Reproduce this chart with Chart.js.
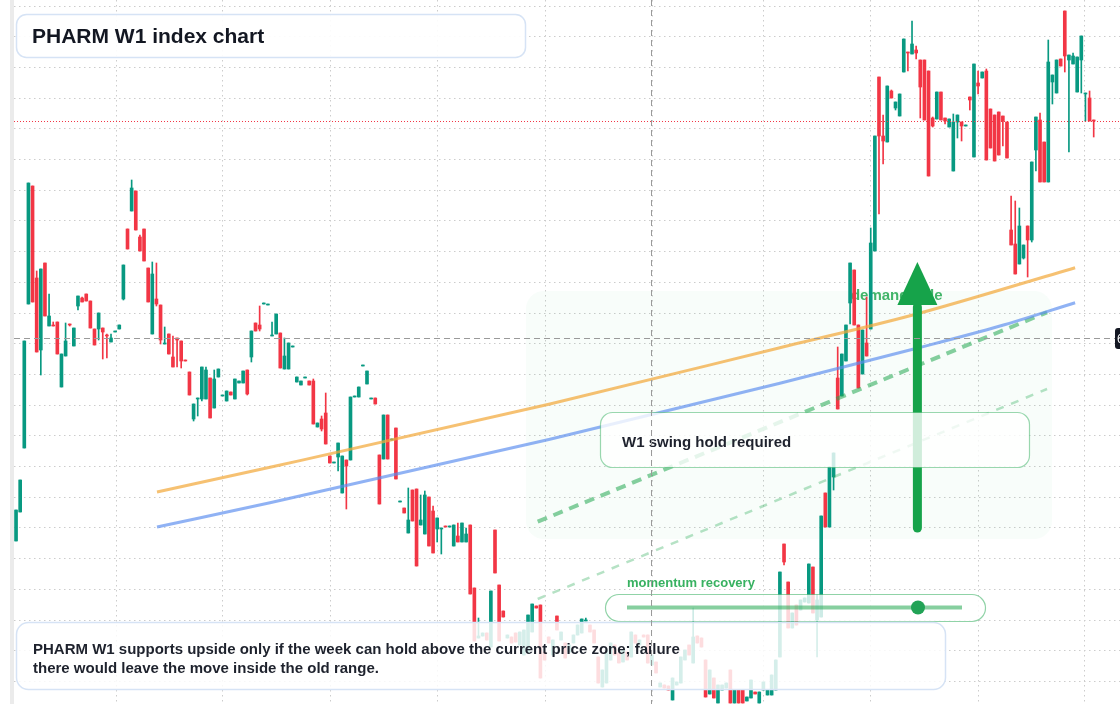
<!DOCTYPE html>
<html><head><meta charset="utf-8">
<script src="https://cdn.jsdelivr.net/npm/chart.js@4.4.1/dist/chart.umd.min.js"></script>
<style>html,body{margin:0;padding:0;background:#fff;overflow:hidden}canvas{display:block}</style>
</head><body>
<canvas id="c" width="1120" height="704"></canvas>
<script>
// ---- weekly OHLC (index units on x, price units on y) ----
const opens = [163,192,256,400,518,426,354,441,378,379,382,317,348,380,358,398,406,410,403,375,375,376,369,362,372,375,405,475,493,513,467,475,436,370,405,399,360,370,347,366,363,344,332,285,305,305,305,326,296,327,308,303,312,305,321,321,334,347,381,379,400,399,368,370,371,335,335,357,322,319,326,323,323,277,285,291,248,241,247,211,244,244,307,307,338,320,305,306,249,245,289,264,276,202,196,171,214,215,179,170,207,193,175,175,178,177,158,168,162,162,179,116,66,68,71,57,174,119,93,66,67,71,59,49,51,72,98,99,52,67,49,88,64,61,52,61,69,71,83,79,74,47,17,21,44,59,51,42,52,47,69,59,69,69,39,42,17,19,18,4,19,21,44,59,41,68,66,44,10,26,1,14,16,34,1,14,14,3,6,12,1,14,9,9,14,47,160,122,76,99,94,102,101,137,84,87,211,177,227,326,308,343,401,434,379,330,361,375,453,627,568,562,613,596,588,632,652,650,654,644,644,633,586,585,612,586,577,533,582,582,578,607,547,621,626,633,595,589,592,588,582,474,460,440,446,478,464,554,584,562,522,622,611,645,693,644,640,612,644,610,606,584];
const highs = [194,224,363,521,518,433,435,441,410,382,382,350,381,380,376,408,407,410,403,375,391,376,370,370,373,379,439,475,524,513,469,475,436,442,441,399,377,370,368,366,363,344,332,300,306,337,337,326,334,335,309,313,312,325,323,333,334,373,381,398,401,400,382,390,371,366,361,358,327,323,327,323,325,281,288,311,248,242,261,248,244,307,308,317,339,333,306,306,249,289,289,265,276,203,196,216,214,215,209,213,207,198,186,176,178,178,179,181,181,176,179,116,86,71,71,113,174,119,93,69,67,71,72,74,89,100,98,99,52,67,64,88,72,61,59,69,79,85,86,79,74,47,34,54,61,59,51,54,52,72,69,64,69,69,49,42,21,19,18,26,22,47,54,59,96,68,66,44,34,26,19,19,21,34,14,14,14,7,24,12,12,22,14,29,44,132,160,122,91,99,104,106,140,137,109,188,211,237,251,357,350,379,441,434,379,374,407,476,568,627,589,618,614,602,610,665,652,683,658,644,644,633,587,612,612,586,585,590,589,582,579,607,640,633,632,635,595,589,592,588,582,508,503,496,459,478,542,587,591,562,664,629,644,645,693,649,651,647,668,611,613,584];
const lows = [163,192,256,400,402,352,329,388,378,378,350,317,348,378,358,394,402,403,376,359,364,345,346,362,372,375,404,455,493,474,453,443,402,370,398,360,360,350,337,337,336,343,309,283,288,303,305,286,296,327,308,303,309,305,321,321,309,342,373,373,400,399,368,370,336,335,335,357,322,319,326,319,280,277,273,260,241,241,233,211,195,244,307,307,338,320,305,300,200,245,245,264,225,202,191,171,183,138,179,170,158,151,162,150,177,177,158,162,162,162,110,63,66,68,64,57,131,63,87,66,61,62,59,49,51,72,96,26,44,61,49,74,64,46,52,61,69,71,83,72,61,21,17,21,44,49,41,42,44,47,61,59,67,41,39,31,17,16,14,4,19,21,44,49,41,61,57,7,10,6,1,14,16,1,1,1,1,3,6,10,1,14,9,9,14,47,139,76,76,79,94,102,101,91,47,87,177,177,214,295,308,343,380,379,316,330,348,375,453,490,540,562,606,594,588,632,633,650,645,586,584,528,577,585,584,580,577,533,566,563,578,594,547,610,626,544,556,543,549,558,546,459,430,440,445,427,462,533,522,522,522,600,611,638,632,552,640,612,611,583,583,567];
const closes = [194,224,363,521,402,352,435,388,388,378,350,350,363,379,376,408,402,403,376,359,391,372,368,366,373,379,439,455,516,474,453,443,402,430,400,364,361,350,337,364,343,343,309,300,306,337,334,286,325,335,309,313,309,325,323,333,310,373,373,375,401,400,369,390,336,348,361,358,327,323,327,319,280,281,275,260,241,242,261,248,238,307,308,317,339,333,306,300,200,289,245,265,225,203,191,184,183,138,184,209,158,151,186,176,177,178,179,162,181,170,110,63,68,71,64,113,131,63,87,69,61,62,72,74,89,100,96,26,44,61,64,74,72,46,59,69,79,85,84,72,61,21,34,54,61,49,41,54,44,72,61,64,67,41,49,31,21,16,14,26,22,47,54,49,67,61,57,7,34,6,19,19,21,1,14,1,1,7,24,10,12,22,14,29,44,132,142,76,91,79,104,106,140,91,104,188,177,237,251,295,350,379,441,379,316,374,348,461,568,568,563,618,606,602,610,665,651,660,651,617,584,528,578,612,584,583,585,582,589,578,579,604,640,618,632,544,556,543,549,583,546,459,430,478,459,464,542,587,522,522,642,629,644,638,648,649,648,647,668,611,583,583];

// ---- overlays (x in week index, y in price units) ----
const orangeX = [34.14, 61.5, 129.3, 185, 217.2, 256.5];
const orangeY = [212, 236.7, 300, 356.3, 389, 436.3];
const blueX = [34.14, 61.5, 129.3, 185, 217.2, 238.3, 256.5];
const blueY = [177, 201.3, 264.7, 320.7, 354.7, 378, 401.3];
const upperGuideX = [126.34, 249.7];
const upperGuideY = [182.3, 391.7];
const lowerGuideX = [126.34, 249.7];
const lowerGuideY = [105, 315];
const zoneX = [123.5, 250.9];
const zoneY = [165, 413];
const arrowX = 218.3;
const arrowY = [174, 399, 442]; // tail, head base, tip
const crossX = 154;
const crossY = 366;

// ---- tick positions (grid) ----
const xTicks = [24.13, 49.95, 76.11, 102.03, 128.04, 154.0, 180.86, 206.82, 232.9, 258.72];
const yTicks = [698.5, 667.8, 637.1, 606.4, 575.7, 545.0, 514.3, 483.6, 452.9, 422.2, 391.5, 360.8, 330.1, 299.4, 268.7, 238.0, 207.3, 176.6, 145.9, 115.2, 84.5, 53.8, 23.1];

// ---- texts ----
const titleText = 'PHARM W1 index chart';
const noteLines = ['PHARM W1 supports upside only if the week can hold above the current price zone; failure', 'there would leave the move inside the old range.'];
const holdText = 'W1 swing hold required';
const zoneText = 'demand side';
const momentumText = 'momentum recovery';

const GREEN = '#089981', RED = '#f23645';
const FONT = '"Liberation Sans", Arial, sans-serif';
const colors = closes.map((c, i) => c >= opens[i] ? GREEN : RED);
const bodies = opens.map((o, i) => ({x: i, y: [o, closes[i]]}));
const wicks = opens.map((o, i) => ({x: i, y: [lows[i], highs[i]]}));
const pts = (xs, ys) => xs.map((x, i) => ({x, y: ys[i]}));

function rrect(ctx, x, y, w, h, r) {
  ctx.beginPath();
  ctx.moveTo(x + r, y);
  ctx.lineTo(x + w - r, y);
  ctx.arcTo(x + w, y, x + w, y + r, r);
  ctx.lineTo(x + w, y + h - r);
  ctx.arcTo(x + w, y + h, x + w - r, y + h, r);
  ctx.lineTo(x + r, y + h);
  ctx.arcTo(x, y + h, x, y + h - r, r);
  ctx.lineTo(x, y + r);
  ctx.arcTo(x, y, x + r, y, r);
  ctx.closePath();
}

const under = {
  id: 'under',
  beforeDatasetsDraw(chart) {
    const ctx = chart.ctx, xs = chart.scales.x, ys = chart.scales.y;
    ctx.save();
    // grid
    ctx.strokeStyle = '#cccccc';
    ctx.lineWidth = 1;
    ctx.setLineDash([1.5, 3.5]);
    yTicks.forEach(v => {
      const y = Math.round(ys.getPixelForValue(v)) + 0.5;
      ctx.beginPath(); ctx.moveTo(14, y); ctx.lineTo(1120, y); ctx.stroke();
    });
    xTicks.forEach(v => {
      const x = Math.round(xs.getPixelForValue(v)) + 0.5;
      ctx.beginPath(); ctx.moveTo(x, 0); ctx.lineTo(x, 704); ctx.stroke();
    });
    ctx.setLineDash([]);
    ctx.fillStyle = '#ebebeb';
    ctx.fillRect(10, 0, 4, 704);
    // demand zone
    const zx0 = xs.getPixelForValue(zoneX[0]), zx1 = xs.getPixelForValue(zoneX[1]);
    const zy0 = ys.getPixelForValue(zoneY[1]), zy1 = ys.getPixelForValue(zoneY[0]);
    rrect(ctx, zx0, zy0, zx1 - zx0, zy1 - zy0, 18);
    ctx.fillStyle = 'rgba(34,197,94,0.03)';
    ctx.fill();
    ctx.font = 'bold 15px ' + FONT;
    ctx.fillStyle = 'rgba(34,168,80,0.85)';
    ctx.textBaseline = 'alphabetic';
    ctx.fillText(zoneText, xs.getPixelForValue(202.2), ys.getPixelForValue(404));
    ctx.restore();
  },
  afterDatasetsDraw(chart) {
    const ctx = chart.ctx, xs = chart.scales.x, ys = chart.scales.y;
    ctx.save();
    // arrow
    const ax = xs.getPixelForValue(arrowX);
    const aTail = ys.getPixelForValue(arrowY[0]), aBase = ys.getPixelForValue(arrowY[1]), aTip = ys.getPixelForValue(arrowY[2]);
    ctx.strokeStyle = '#16a34a';
    ctx.lineWidth = 9;
    ctx.lineCap = 'round';
    ctx.beginPath(); ctx.moveTo(ax, aTail - 2); ctx.lineTo(ax, aBase + 2); ctx.stroke();
    ctx.lineCap = 'butt';
    ctx.fillStyle = '#16a34a';
    ctx.beginPath(); ctx.moveTo(ax, aTip); ctx.lineTo(ax + 20, aBase); ctx.lineTo(ax - 20, aBase); ctx.closePath(); ctx.fill();

    // W1 box
    rrect(ctx, 600.5, 412.5, 429, 55, 12);
    ctx.fillStyle = 'rgba(255,255,255,0.8)'; ctx.fill();
    ctx.strokeStyle = 'rgba(34,168,80,0.45)'; ctx.lineWidth = 1.2; ctx.stroke();
    ctx.font = 'bold 15px ' + FONT;
    ctx.fillStyle = '#1e222d';
    ctx.fillText(holdText, 622, 446.5);

    // momentum pill
    ctx.font = 'bold 13px ' + FONT;
    ctx.fillStyle = 'rgba(34,168,80,0.9)';
    ctx.fillText(momentumText, 627, 587);
    rrect(ctx, 605.5, 594.5, 380, 27, 13.5);
    ctx.fillStyle = 'rgba(255,255,255,0.8)'; ctx.fill();
    ctx.strokeStyle = 'rgba(34,168,80,0.5)'; ctx.lineWidth = 1.2; ctx.stroke();
    ctx.strokeStyle = 'rgba(34,168,80,0.55)'; ctx.lineWidth = 4;
    ctx.beginPath(); ctx.moveTo(627, 607.5); ctx.lineTo(962, 607.5); ctx.stroke();
    ctx.fillStyle = '#22a356';
    ctx.beginPath(); ctx.arc(918, 607.5, 7, 0, Math.PI * 2); ctx.fill();

    // bottom note
    rrect(ctx, 16.5, 622.5, 929, 67, 12);
    ctx.fillStyle = 'rgba(255,255,255,0.83)'; ctx.fill();
    ctx.strokeStyle = '#d6e3f5'; ctx.lineWidth = 1.5; ctx.stroke();
    ctx.font = 'bold 15px ' + FONT;
    ctx.fillStyle = '#1e222d';
    ctx.fillText(noteLines[0], 33, 653.5);
    ctx.fillText(noteLines[1], 33, 673);

    // title
    rrect(ctx, 16.5, 14.5, 509, 43, 10);
    ctx.fillStyle = 'rgba(255,255,255,0.92)'; ctx.fill();
    ctx.strokeStyle = '#d6e3f5'; ctx.lineWidth = 1.5; ctx.stroke();
    ctx.font = 'bold 21px ' + FONT;
    ctx.fillStyle = '#131722';
    ctx.fillText(titleText, 32, 43.3);

    // last price line
    const lp = Math.round(ys.getPixelForValue(closes[closes.length - 1])) + 0.5;
    ctx.strokeStyle = RED; ctx.lineWidth = 1; ctx.setLineDash([1, 2]);
    ctx.beginPath(); ctx.moveTo(14, lp); ctx.lineTo(1120, lp); ctx.stroke();

    // crosshair
    const cx = Math.round(xs.getPixelForValue(crossX)) - 0.5;
    const cy = Math.round(ys.getPixelForValue(crossY)) + 0.5;
    ctx.strokeStyle = '#9a9a9a'; ctx.lineWidth = 1; ctx.setLineDash([6, 4]);
    ctx.beginPath(); ctx.moveTo(cx, 0); ctx.lineTo(cx, 704); ctx.stroke();
    ctx.beginPath(); ctx.moveTo(14, cy); ctx.lineTo(1115, cy); ctx.stroke();
    ctx.setLineDash([]);
    rrect(ctx, 1115, cy - 10.5, 70, 21, 3);
    ctx.fillStyle = '#131722'; ctx.fill();
    ctx.font = '12px ' + FONT; ctx.fillStyle = '#fff';
    ctx.fillText('60.92', 1117, cy + 4);
    ctx.restore();
  }
};

new Chart(document.getElementById('c'), {
  type: 'bar',
  data: {
    datasets: [
      {type: 'line', data: pts(orangeX, orangeY), borderColor: 'rgba(242,169,59,0.72)', borderWidth: 3, pointRadius: 0, cubicInterpolationMode: 'monotone', order: 1},
      {type: 'line', data: pts(blueX, blueY), borderColor: 'rgba(91,141,239,0.68)', borderWidth: 3, pointRadius: 0, cubicInterpolationMode: 'monotone', order: 1},
      {type: 'line', data: pts(upperGuideX, upperGuideY), borderColor: 'rgba(34,168,80,0.55)', borderWidth: 4, borderDash: [10, 7], pointRadius: 0, order: 1},
      {type: 'line', data: pts(lowerGuideX, lowerGuideY), borderColor: 'rgba(34,168,80,0.33)', borderWidth: 2.5, borderDash: [8, 8], pointRadius: 0, order: 1},
      {data: wicks, backgroundColor: colors, barThickness: 1, grouped: false, order: 3, borderWidth: 0},
      {data: bodies, backgroundColor: colors, barThickness: 3, grouped: false, minBarLength: 1, order: 2, borderWidth: 0}
    ]
  },
  options: {
    responsive: false,
    animation: false,
    devicePixelRatio: 1,
    events: [],
    layout: {padding: 0},
    plugins: {legend: {display: false}, tooltip: {enabled: false}},
    scales: {
      x: {type: 'linear', min: -3.885, max: 267.37, offset: false, display: false},
      y: {type: 'linear', min: 0, max: 704, display: false}
    }
  },
  plugins: [under]
});
</script>
</body></html>
